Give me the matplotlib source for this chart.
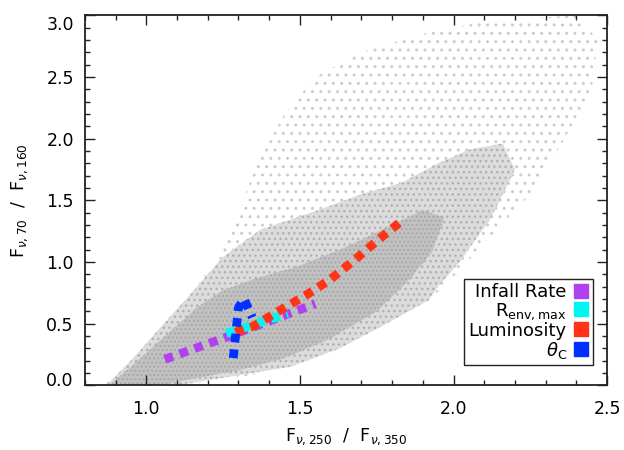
import numpy as np
import matplotlib
matplotlib.use("Agg")
import matplotlib.pyplot as plt
import matplotlib.transforms as mtransforms
from matplotlib.lines import Line2D

# outline of the model cloud, three density levels
halo_x = [0.86, 0.93, 1.05, 1.15, 1.22, 1.30, 1.36, 1.45, 1.55, 1.70, 1.90, 2.10, 2.40, 2.47, 2.45, 2.35, 2.25, 2.10, 1.97, 1.90, 1.76, 1.63, 1.47, 1.30, 1.10]
halo_y = [0.00, 0.15, 0.45, 0.75, 1.00, 1.40, 1.80, 2.20, 2.50, 2.70, 2.85, 2.95, 3.00, 2.80, 2.40, 1.95, 1.55, 1.15, 0.80, 0.66, 0.47, 0.30, 0.15, 0.06, 0.00]
mid_x = [0.87, 0.95, 1.05, 1.13, 1.20, 1.25, 1.37, 1.56, 1.70, 1.83, 1.95, 2.05, 2.16, 2.20, 2.12, 2.02, 1.95, 1.92, 1.76, 1.63, 1.47, 1.30, 1.10]
mid_y = [0.00, 0.20, 0.48, 0.70, 0.90, 1.04, 1.26, 1.42, 1.55, 1.64, 1.80, 1.91, 1.96, 1.75, 1.35, 1.00, 0.80, 0.69, 0.47, 0.30, 0.15, 0.08, 0.00]
core_x = [0.88, 0.96, 1.07, 1.17, 1.25, 1.35, 1.50, 1.65, 1.80, 1.90, 1.97, 1.93, 1.85, 1.75, 1.60, 1.45, 1.30, 1.10, 1.05]
core_y = [0.00, 0.17, 0.42, 0.64, 0.77, 0.86, 0.97, 1.12, 1.30, 1.42, 1.36, 1.08, 0.84, 0.60, 0.38, 0.22, 0.12, 0.03, 0.00]

# parameter tracks
infall_x = [1.06, 1.25, 1.40, 1.55]
infall_y = [0.21, 0.38, 0.52, 0.66]
renv_x = [1.26, 1.46]
renv_y = [0.42, 0.58]
lum_x = [1.29, 1.35, 1.43, 1.52, 1.60, 1.68, 1.76, 1.84]
lum_y = [0.43, 0.48, 0.60, 0.73, 0.86, 1.02, 1.19, 1.35]
theta_x = [1.283, 1.300, 1.318, 1.345]
theta_y = [0.22, 0.63, 0.70, 0.55]

labels = ["Infall Rate", r"R$_{\rm env,max}$", "Luminosity", r"$\theta_{\rm C}$"]
colors = ["#b041f0", "#00f6f0", "#ff3315", "#0030ff"]

plt.rcParams["font.family"] = ["DejaVu Sans"]
plt.rcParams["hatch.linewidth"] = 1.0
fig = plt.figure(figsize=(6.24, 4.5), dpi=100)
ax = fig.add_axes([0.136, 0.144, 0.837, 0.822])

ax.fill(halo_x, halo_y, facecolor="white", edgecolor="#cccccc", hatch="..", lw=0)
ax.fill(mid_x, mid_y, facecolor="#dcdcdc", edgecolor="#b0b0b0", hatch="...", lw=0)
ax.fill(core_x, core_y, facecolor="#c2c2c2", edgecolor="#a8a8a8", hatch="....", lw=0)

dot = (0, (1, 0.8))
for xs, ys, c in zip([infall_x, renv_x, lum_x, theta_x], [infall_y, renv_y, lum_y, theta_y], colors):
    ax.plot(xs, ys, color=c, lw=6.3, linestyle=dot, dash_capstyle="butt")

ax.set_xlim(0.8, 2.5)
ax.set_ylim(0.0, 3.0)
ax.set_xticks([1.0, 1.5, 2.0, 2.5])
ax.set_yticks(np.arange(0, 3.01, 0.5))
ax.set_xticks(np.arange(0.8, 2.51, 0.1), minor=True)
ax.set_yticks(np.arange(0, 3.01, 0.1), minor=True)
ax.xaxis.set_major_formatter(plt.FormatStrFormatter("%.1f"))
ax.yaxis.set_major_formatter(plt.FormatStrFormatter("%.1f"))
ax.tick_params(which="both", direction="in", top=True, right=True, width=1, color="#222222")
ax.tick_params(which="major", length=7.2, labelsize=12.5)
ax.tick_params(which="minor", length=3.6)
ax.tick_params(axis="y", pad=8)
ax.tick_params(axis="x", pad=11)
for s in ax.spines.values():
    s.set_linewidth(1.3)
    s.set_color("#222222")

# IDL keeps the end labels inside the axis range
yt = ax.yaxis.get_major_ticks()
yt[0].label1.set_transform(yt[0].label1.get_transform() + mtransforms.ScaledTranslation(0, 6 / 100, fig.dpi_scale_trans))
yt[-1].label1.set_transform(yt[-1].label1.get_transform() + mtransforms.ScaledTranslation(0, -8 / 100, fig.dpi_scale_trans))

ax.set_xlabel(r"F$_{\nu,250}$  /  F$_{\nu,350}$", fontsize=12.5, labelpad=6)
ax.set_ylabel(r"F$_{\nu,70}$  /  F$_{\nu,160}$", fontsize=12.5, labelpad=12)

handles = [Line2D([], [], marker="s", color=c, linestyle="none", markersize=10) for c in colors]
leg = ax.legend(handles, labels, loc="lower right", bbox_to_anchor=(0.973, 0.054), borderaxespad=0,
                markerfirst=False, fancybox=False, fontsize=13, handlelength=0.8, handletextpad=0.4,
                labelspacing=0.0, borderpad=0.25, framealpha=1)
leg.get_frame().set_edgecolor("#222222")
leg.get_frame().set_linewidth(1.0)

fig.savefig("out.png", dpi=100, facecolor="white")
